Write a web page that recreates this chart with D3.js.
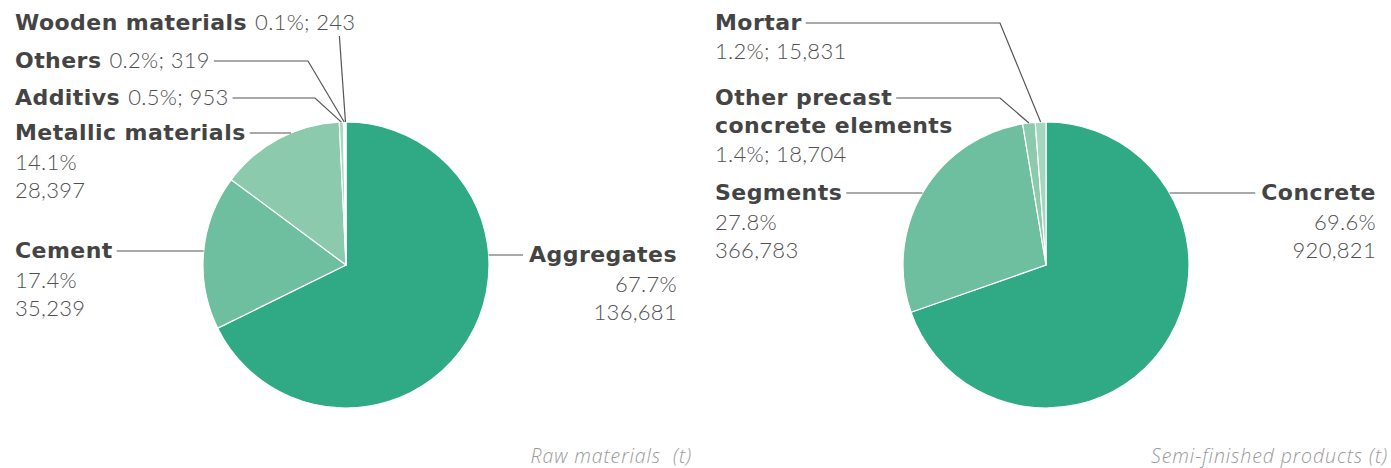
<!DOCTYPE html>
<html>
<head>
<meta charset="utf-8">
<script src="https://cdn.jsdelivr.net/npm/d3@7"></script>
<style>
  body { margin: 0; background: #fff; }
  svg { display: block; }
  .name { font-family: "DejaVu Sans"; font-weight: bold; font-size: 22px; fill: #444; letter-spacing: 0.45px; }
  .val { font-family: Lato; font-weight: 300; font-size: 22px; fill: #505050; letter-spacing: 0.3px; }
  .caption { font-family: "Open Sans"; font-style: italic; font-weight: 300; font-size: 19.5px; fill: #9a9a9a; letter-spacing: 0.9px; white-space: pre; }
  .leader { fill: none; stroke: #555; stroke-width: 1.2; }
</style>
</head>
<body>
<svg id="chart" width="1391" height="468"></svg>
<script>
// Raw materials (tonnes)
const rawCategories = ["Aggregates", "Cement", "Metallic materials", "Additivs", "Others", "Wooden materials"];
const rawTonnes = [136681, 35239, 28397, 953, 319, 243];
const rawShares = ["67.7%", "17.4%", "14.1%", "0.5%", "0.2%", "0.1%"];
const rawColors = ["#30aa84", "#6dbf9f", "#8ccaae", "#a8d8c2", "#b6dfcc", "#c4e5d5"];

// Semi-finished products (tonnes)
const semiCategories = ["Concrete", "Segments", "Other precast concrete elements", "Mortar"];
const semiTonnes = [920821, 366783, 18704, 15831];
const semiShares = ["69.6%", "27.8%", "1.4%", "1.2%"];
const semiColors = ["#30aa84", "#6dbf9f", "#8ccaae", "#a5d6bf"];

const captions = ["Raw materials  (t)", "Semi-finished products (t)"];

const fmt = d3.format(",");
const svg = d3.select("#chart");
const radius = 143;

// Label placement for each slice: text anchor point, how the share/tonnes are laid out,
// and how the leader line reaches the slice.
const rawLayout = [
  { x: 677, y: 262, anchor: "end", lines: ["Aggregates"], mode: "stacked", leader: "edge" },
  { x: 15, y: 258, anchor: "start", lines: ["Cement"], mode: "stacked", leader: "edge" },
  { x: 15, y: 140, anchor: "start", lines: ["Metallic materials"], mode: "stacked", leader: "edge" },
  { x: 15, y: 105, anchor: "start", lines: ["Additivs"], mode: "inline", leader: "elbow", elbowX: 315 },
  { x: 15, y: 68, anchor: "start", lines: ["Others"], mode: "inline", leader: "elbow", elbowX: 308 },
  { x: 15, y: 30, anchor: "start", lines: ["Wooden materials"], mode: "inline", leader: "below" }
];
const semiLayout = [
  { x: 1376, y: 200, anchor: "end", lines: ["Concrete"], mode: "stacked", leader: "edge" },
  { x: 715, y: 200, anchor: "start", lines: ["Segments"], mode: "stacked", leader: "edge" },
  { x: 715, y: 105, anchor: "start", lines: ["Other precast", "concrete elements"], mode: "below", leader: "elbow", elbowX: 1000 },
  { x: 715, y: 30, anchor: "start", lines: ["Mortar"], mode: "below", leader: "elbow", elbowX: 1000 }
];

function drawPie(cx, cy, tonnes, shares, colors, layout, caption, captionX) {
  const g = svg.append("g");
  const pie = d3.pie().sort(null).value(d => d);
  const arcs = pie(tonnes);
  const arc = d3.arc().innerRadius(0).outerRadius(radius);

  g.append("g").attr("transform", `translate(${cx},${cy})`)
    .selectAll("path").data(arcs).join("path")
    .attr("d", arc)
    .attr("fill", (d, i) => colors[i])
    .attr("stroke", "#fff")
    .attr("stroke-width", 1.2)
    .attr("stroke-linejoin", "round");

  const lineH = 28;
  arcs.forEach((a, i) => {
    const L = layout[i];
    const text = g.append("text")
      .attr("x", L.x).attr("y", L.y)
      .attr("text-anchor", L.anchor);
    // name lines
    L.lines.forEach((ln, k) => {
      text.append("tspan").attr("class", "name")
        .attr("x", L.x).attr("dy", k === 0 ? 0 : lineH).text(ln);
    });
    const firstLineNode = text.select("tspan").node();
    if (L.mode === "inline") {
      text.select("tspan").text(L.lines[0] + " ");
      text.append("tspan").attr("class", "val").text(`${shares[i]}; ${fmt(tonnes[i])}`);
    } else if (L.mode === "stacked") {
      text.append("tspan").attr("class", "val").attr("x", L.x).attr("dy", lineH + 2).text(shares[i]);
      text.append("tspan").attr("class", "val").attr("x", L.x).attr("dy", lineH).text(fmt(tonnes[i]));
    } else {
      text.append("tspan").attr("class", "val").attr("x", L.x).attr("dy", lineH + 1).text(`${shares[i]}; ${fmt(tonnes[i])}`);
    }

    // leader line
    const ly = L.y - 7;
    const mid = (a.startAngle + a.endAngle) / 2;
    const px = cx + radius * Math.sin(mid);
    const py = cy - radius * Math.cos(mid);
    let pts;
    if (L.leader === "edge") {
      const dy = ly - cy;
      const dx = Math.sqrt(radius * radius - dy * dy);
      const ex = cx + (L.anchor === "end" ? dx : -dx);
      const bb = firstLineNode.getBBox();
      const tx = L.anchor === "end" ? bb.x - 6 : bb.x + bb.width + 4;
      pts = [[tx, ly], [ex, ly]];
    } else if (L.leader === "elbow") {
      const bb = L.mode === "inline" ? text.node().getBBox() : firstLineNode.getBBox();
      const tx = bb.x + bb.width + 4;
      pts = [[tx, ly], [L.elbowX, ly], [px, py]];
    } else {
      const bb = text.node().getBBox();
      const tx = bb.x + bb.width - 16;
      pts = [[tx, L.y + 6], [px, py]];
    }
    g.append("path").attr("class", "leader").attr("d", d3.line()(pts));
  });

  g.append("text").attr("class", "caption")
    .attr("x", captionX).attr("y", 463)
    .attr("text-anchor", "end").text(caption);
}

drawPie(346, 265, rawTonnes, rawShares, rawColors, rawLayout, captions[0], 692);
drawPie(1046, 265, semiTonnes, semiShares, semiColors, semiLayout, captions[1], 1388);
</script>
</body>
</html>
